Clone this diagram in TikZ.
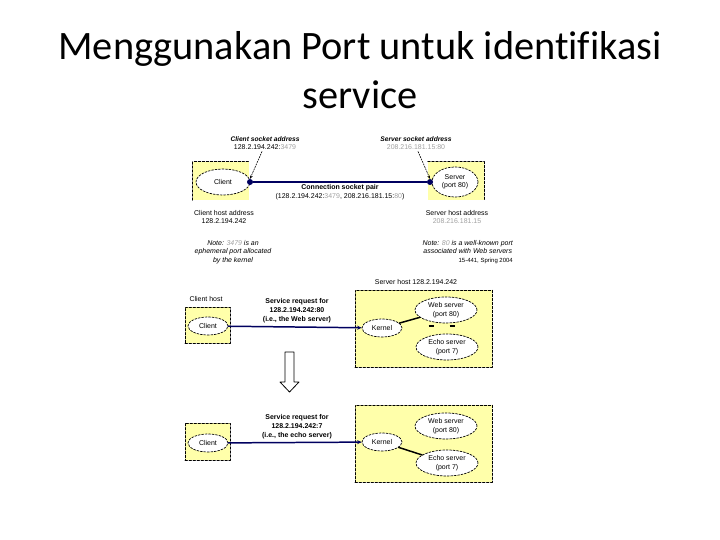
\documentclass[tikz,border=0pt]{standalone}
\usepackage{fontspec}
\setmainfont{Liberation Sans}
\newfontfamily\slidefont[Ligatures=NoCommon]{Carlito}
\usetikzlibrary{arrows.meta,positioning,shapes.geometric}
\definecolor{hostyellow}{RGB}{255,255,170}
\definecolor{linknavy}{RGB}{0,0,95}
\definecolor{addrgray}{RGB}{160,160,160}
\newcommand\dimaddr[1]{\textcolor{addrgray}{#1}}
\tikzset{
  every picture/.append style={line cap=round,line join=round},
  net title/.style={font=\slidefont\fontsize{40.5}{45.5}\selectfont,align=center,inner sep=0pt},
  net host/.style={fill=hostyellow,inner sep=0pt},
  net hostline/.style={draw=black,line width=0.7pt,dash pattern=on 2.5pt off 1.5pt},
  net proc/.style={ellipse,draw=black,fill=white,line width=0.7pt,dash pattern=on 2pt off 1.5pt,
    inner sep=0pt,align=center,font=\fontsize{7}{8.5}\selectfont},
  net link/.style={linknavy,line width=1.5pt},
  net req/.style={net link,-{Stealth[length=4.5bp,width=4bp]}},
  net ipc/.style={black,line width=1.5pt},
  net sock/.style={circle,fill=linknavy,inner sep=0pt,minimum size=6bp},
  net point/.style={black,line width=0.6pt,dash pattern=on 1.5pt off 1.2pt,-{Stealth[length=3.5bp,width=3bp]}},
  net text/.style={font=\fontsize{7}{9}\selectfont,align=center,inner sep=0pt},
  net note/.style={font=\itshape\fontsize{7}{8.5}\selectfont,align=center,inner sep=0pt}
}
\begin{document}
\begin{tikzpicture}[x=1bp,y=-1bp]
  \useasboundingbox (0,0) rectangle (720,540);
  \node[net title,anchor=north] (title) at (360,31) {Menggunakan Port untuk identifikasi\\[3.5bp]service};

  % connection
  \node[net host,minimum width=56bp,minimum height=38bp] (cbox) at (221,181) {};
  \draw[net hostline] (cbox.south west) |- (cbox.north east);
  \node[net host,minimum width=56bp,minimum height=38bp] (sbox) at (456,181) {};
  \draw[net hostline] (sbox.north west) -| (sbox.south east);
  \node[net proc,minimum width=54bp,minimum height=26bp] (client) at (223,182) {Client};
  \node[net proc,minimum width=46bp,minimum height=30bp] (server) at (455,182) {Server\\(port 80)};
  \node[net sock] (csock) at (250,182) {};
  \node[net sock] (ssock) at (430,182) {};
  \draw[net link] (csock) -- (ssock);
  \node[net text,font=\bfseries\itshape\fontsize{6.7}{9}\selectfont] (caddr) at (265,139) {Client socket address};
  \node[net text,below=2.5bp of caddr] (cip) {128.2.194.242:\dimaddr{3479}};
  \node[net text,font=\bfseries\itshape\fontsize{6.7}{9}\selectfont] (saddr) at (416,139) {Server socket address};
  \node[net text,below=2.5bp of saddr] (sip) {\dimaddr{208.216.181.15:80}};
  \draw[net point] (cip.south) ++(-3,2) coordinate (cfrom) (cfrom) -- (csock.north);
  \draw[net point] (sip.south) ++(2,2) coordinate (sfrom) (sfrom) -- (ssock.north);
  \node[net text,font=\bfseries\fontsize{7}{9}\selectfont] (pair) at (340,188) {Connection socket pair};
  \node[net text,below=1.5bp of pair] (pairip) {(128.2.194.242:\dimaddr{3479}, 208.216.181.15:\dimaddr{80})};
  \node[net text] (chost) at (224,217) {Client host address\\128.2.194.242};
  \node[net text] (shost) at (457,217) {Server host address\\\dimaddr{208.216.181.15}};
  \node[net note] (cnote) at (233,252) {Note: \dimaddr{3479} is an\\ephemeral port allocated\\by the kernel};
  \node[net note,anchor=north east] (snote) at (513,240) {\hfill Note: \dimaddr{80} is a well-known port\\associated with Web servers\\\hfill{\upshape\fontsize{6}{8.5}\selectfont 15-441, Spring 2004}};

  % request to port 80
  \node[net text] (shostA) at (416,282) {Server host 128.2.194.242};
  \node[net host,net hostline,minimum width=137bp,minimum height=77bp] (sboxA) at (423.5,328.5) {};
  \node[net text] (chostA) at (206,299) {Client host};
  \node[net host,net hostline,minimum width=45bp,minimum height=36bp] (cboxA) at (207.5,325) {};
  \node[net proc,minimum width=40bp,minimum height=18bp] (clientA) at (208,326) {Client};
  \node[net proc,minimum width=40bp,minimum height=18bp] (kernelA) at (382,328) {Kernel};
  \node[net proc,minimum width=62bp,minimum height=26bp] (webA) at (446,310) {Web server\\(port 80)};
  \node[net proc,minimum width=62bp,minimum height=26bp] (echoA) at (447,347) {Echo server\\(port 7)};
  \draw[net req] (clientA) -- (kernelA);
  \draw[net ipc] (kernelA) -- (webA);
  \foreach \gx in {431,452}
    \draw[black,line width=1.6pt,line cap=butt] (\gx-2.5,326) -- (\gx+2.5,326);
  \node[net text,font=\bfseries\fontsize{7}{9}\selectfont] (reqA) at (297,311) {Service request for\\128.2.194.242:80\\(i.e., the Web server)};

  % next
  \draw[black,line width=0.8pt,fill=white] (285,352) -- (294,352) -- (294,382) -- (299,382) -- (289.5,392)
    -- (280,382) -- (285,382) -- cycle;

  % request to port 7
  \node[net host,net hostline,minimum width=137bp,minimum height=77bp] (sboxB) at (423.5,443.5) {};
  \node[net host,net hostline,minimum width=45bp,minimum height=37bp] (cboxB) at (207.5,441.5) {};
  \node[net proc,minimum width=40bp,minimum height=18bp] (clientB) at (208,443) {Client};
  \node[net proc,minimum width=40bp,minimum height=18bp] (kernelB) at (382,442) {Kernel};
  \node[net proc,minimum width=62bp,minimum height=26bp] (webB) at (446,426) {Web server\\(port 80)};
  \node[net proc,minimum width=62bp,minimum height=26bp] (echoB) at (447,463) {Echo server\\(port 7)};
  \draw[net req] (clientB) -- (kernelB);
  \draw[net ipc] (kernelB) -- (echoB);
  \node[net text,font=\bfseries\fontsize{7}{9}\selectfont] (reqB) at (297,427) {Service request for\\128.2.194.242:7\\(i.e., the echo server)};
\end{tikzpicture}
\end{document}
